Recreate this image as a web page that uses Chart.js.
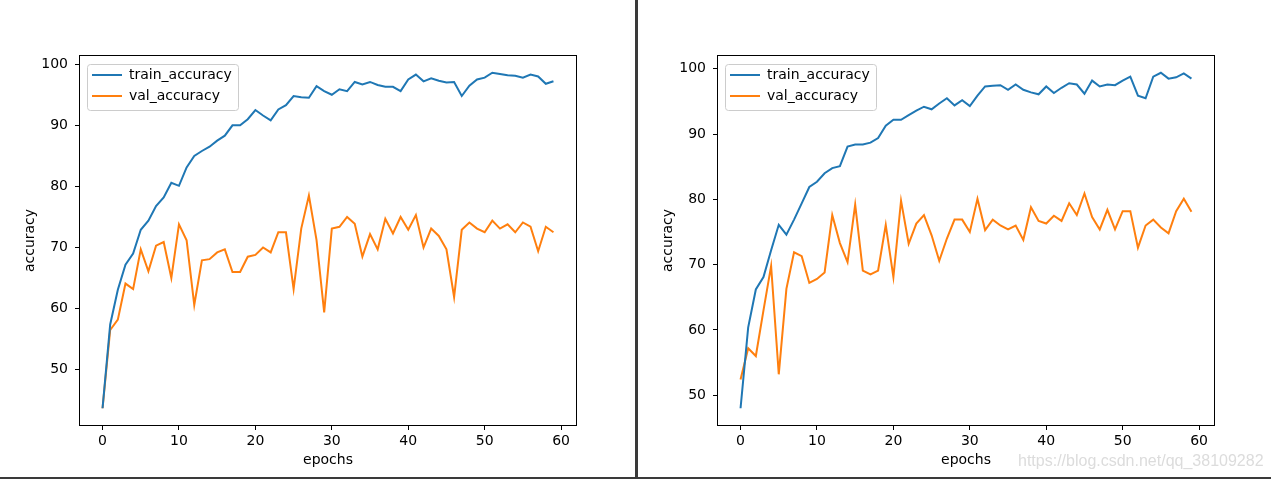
<!DOCTYPE html>
<html lang="en">

<head>
    <meta charset="UTF-8">
    <title>Accuracy curves</title>
    <style>
        body {
            margin: 0;
            background: #fff;
            width: 1271px;
            height: 479px;
            position: relative;
            overflow: hidden;
        }

        canvas {
            position: absolute;
            top: 0;
        }

        #left-chart {
            left: 0;
        }

        #right-chart {
            left: 638px;
        }

        #divider {
            position: absolute;
            left: 635px;
            top: 0;
            width: 3px;
            height: 479px;
            background: #3a3a3a;
        }

        #bottom-line {
            position: absolute;
            left: 0;
            top: 477px;
            width: 1271px;
            height: 2px;
            background: #3a3a3a;
        }

        #watermark {
            position: absolute;
            left: 1018px;
            top: 453px;
            font-family: "Liberation Sans", sans-serif;
            font-size: 16px;
            line-height: 16px;
            color: #dcdcdc;
            white-space: nowrap;
        }
    </style>
    <script src="https://cdn.jsdelivr.net/npm/chart.js"></script>
</head>

<body>
    <canvas id="left-chart" width="635" height="477"></canvas>
    <canvas id="right-chart" width="633" height="477"></canvas>
    <div id="divider"></div>
    <div id="bottom-line"></div>
    <div id="watermark">https://blog.csdn.net/qq_38109282</div>

    <script>
        const epochs = [0, 1, 2, 3, 4, 5, 6, 7, 8, 9, 10, 11, 12, 13, 14, 15, 16, 17, 18, 19,
            20, 21, 22, 23, 24, 25, 26, 27, 28, 29, 30, 31, 32, 33, 34, 35, 36, 37, 38, 39,
            40, 41, 42, 43, 44, 45, 46, 47, 48, 49, 50, 51, 52, 53, 54, 55, 56, 57, 58, 59];

        const xTicks = [0, 10, 20, 30, 40, 50, 60];
        const yTicks = [50, 60, 70, 80, 90, 100];
        const seriesNames = ['train_accuracy', 'val_accuracy'];

        // left figure
        const leftTrain = [43.7, 57.4, 63.1, 67.2, 69.0, 72.9, 74.4, 76.8, 78.2, 80.6,
            80.1, 83.1, 85.0, 85.8, 86.5, 87.5, 88.3, 90.0, 90.0, 91.0,
            92.5, 91.6, 90.8, 92.6, 93.3, 94.8, 94.6, 94.5, 96.4, 95.6,
            95.0, 95.9, 95.6, 97.1, 96.7, 97.1, 96.6, 96.3, 96.3, 95.6,
            97.5, 98.3, 97.2, 97.7, 97.3, 97.0, 97.1, 94.8, 96.5, 97.5,
            97.8, 98.6, 98.4, 98.2, 98.1, 97.8, 98.3, 98.0, 96.8, 97.2];
        const leftVal = [43.7, 56.5, 58.2, 64.1, 63.2, 69.7, 66.1, 70.3, 70.9, 65.0,
            73.8, 71.2, 60.6, 67.9, 68.1, 69.2, 69.7, 66.0, 66.0, 68.5,
            68.8, 70.0, 69.2, 72.5, 72.5, 63.2, 73.1, 78.5, 71.2, 59.4,
            73.1, 73.4, 75.0, 73.9, 68.5, 72.2, 69.7, 74.7, 72.3, 75.0,
            72.9, 75.3, 70.0, 73.1, 71.9, 69.7, 61.9, 72.9, 74.1, 73.1,
            72.5, 74.4, 73.1, 73.8, 72.5, 74.1, 73.4, 69.4, 73.4, 72.5];

        // right figure
        const rightTrain = [48.0, 60.4, 66.2, 68.1, 72.2, 76.1, 74.6, 76.9, 79.4, 81.9,
            82.7, 84.0, 84.8, 85.1, 88.1, 88.4, 88.4, 88.7, 89.4, 91.3,
            92.2, 92.2, 92.9, 93.6, 94.2, 93.8, 94.7, 95.5, 94.4, 95.2,
            94.3, 95.9, 97.3, 97.4, 97.5, 96.8, 97.6, 96.8, 96.4, 96.1,
            97.3, 96.3, 97.1, 97.8, 97.6, 96.2, 98.2, 97.3, 97.6, 97.5,
            98.2, 98.8, 95.9, 95.5, 98.8, 99.4, 98.5, 98.7, 99.3, 98.5];
        const rightVal = [52.4, 57.2, 56.0, 63.0, 69.8, 53.2, 66.3, 71.9, 71.3, 67.2,
            67.8, 68.8, 77.6, 73.3, 70.4, 79.2, 69.1, 68.5, 69.1, 76.1,
            68.1, 79.8, 73.2, 76.3, 77.6, 74.5, 70.6, 74.0, 76.9, 76.9,
            75.0, 80.1, 75.3, 76.9, 76.0, 75.4, 76.0, 73.8, 78.8, 76.7,
            76.3, 77.5, 76.7, 79.4, 77.6, 80.9, 77.3, 75.4, 78.4, 75.4,
            78.2, 78.2, 72.6, 76.0, 76.9, 75.7, 74.8, 78.2, 80.1, 78.1];

        const FONT = '"DejaVu Sans", sans-serif';
        const FS = 14;
        Chart.defaults.color = '#000';
        Chart.defaults.font.family = FONT;
        Chart.defaults.font.size = FS;

        // matplotlib style 5% margins
        function autoRange(lists) {
            const all = [].concat(...lists);
            const lo = Math.min(...all), hi = Math.max(...all);
            const m = (hi - lo) * 0.05;
            return { min: lo - m, max: hi + m };
        }

        // box around the axes + framed legend in the upper left corner
        const framePlugin = {
            id: 'frame',
            afterLayout(chart) {
                const lg = chart.legend;
                const area = chart.chartArea;
                lg.left = area.left + 5;
                lg.top = area.top + 5;
                lg.right = lg.left + 170;
                lg.bottom = lg.top + 60;
            },
            beforeDraw(chart) {
                const lg = chart.legend;
                const ctx = chart.ctx;
                const pad = lg.options.labels.padding;
                const boxW = lg.options.labels.pointStyleWidth;
                ctx.save();
                ctx.font = FS + 'px ' + FONT;
                const tw = Math.max(...seriesNames.map(t => ctx.measureText(t).width));
                const lineStart = lg.left + pad;
                const rowCenter = lg.top + pad + FS / 2;
                const x0 = lineStart - 5;
                const y0 = rowCenter - 10.7;
                const w = lineStart + boxW + FS / 2 + tw + 6 - x0;
                ctx.beginPath();
                ctx.roundRect(Math.round(x0) + 0.5, Math.round(y0) + 0.5, Math.round(w), 46, 3);
                ctx.fillStyle = 'rgba(255,255,255,0.8)';
                ctx.fill();
                ctx.strokeStyle = '#cccccc';
                ctx.lineWidth = 1;
                ctx.stroke();
                ctx.restore();
            },
            afterDatasetsDraw(chart) {
                const { left, top, right, bottom } = chart.chartArea;
                const ctx = chart.ctx;
                ctx.save();
                ctx.strokeStyle = '#000';
                ctx.lineWidth = 1;
                ctx.strokeRect(Math.round(left) - 0.5, Math.round(top) - 0.5,
                    Math.round(right - left) + 1, Math.round(bottom - top) + 1);
                ctx.restore();
            }
        };

        function makeChart(canvasId, train, val) {
            const canvas = document.getElementById(canvasId);
            const yr = autoRange([train, val]);
            return new Chart(canvas.getContext('2d'), {
                type: 'line',
                data: {
                    datasets: [{
                        label: seriesNames[0],
                        data: epochs.map((e, i) => ({ x: e, y: train[i] })),
                        borderColor: '#1f77b4',
                        backgroundColor: '#1f77b4',
                        borderWidth: 2,
                        pointRadius: 0,
                        tension: 0
                    }, {
                        label: seriesNames[1],
                        data: epochs.map((e, i) => ({ x: e, y: val[i] })),
                        borderColor: '#ff7f0e',
                        backgroundColor: '#ff7f0e',
                        borderWidth: 2,
                        pointRadius: 0,
                        tension: 0
                    }]
                },
                options: {
                    responsive: false,
                    animation: false,
                    layout: {
                        padding: { left: 0, top: 56, right: canvas.width - 576, bottom: 0 }
                    },
                    plugins: {
                        tooltip: { enabled: false },
                        legend: {
                            position: 'chartArea',
                            align: 'start',
                            labels: {
                                usePointStyle: true,
                                pointStyle: 'line',
                                pointStyleWidth: 30,
                                boxHeight: FS,
                                padding: 7,
                                color: '#000',
                                font: { size: FS, family: FONT }
                            }
                        }
                    },
                    scales: {
                        x: {
                            type: 'linear',
                            min: -2.95,
                            max: 61.95,
                            afterBuildTicks: s => { s.ticks = xTicks.map(v => ({ value: v })); },
                            afterFit: s => { s.height = 52; },
                            grid: { display: true, drawOnChartArea: false, drawTicks: true, tickLength: 5, tickColor: '#000', tickWidth: 1 },
                            border: { display: false },
                            ticks: { padding: 3, maxRotation: 0, color: '#000' },
                            title: { display: true, text: 'epochs', color: '#000', padding: { top: 0, bottom: 8.6 } }
                        },
                        y: {
                            min: yr.min,
                            max: yr.max,
                            afterBuildTicks: s => { s.ticks = yTicks.map(v => ({ value: v })); },
                            afterFit: s => { s.width = 80; },
                            grid: { display: true, drawOnChartArea: false, drawTicks: true, tickLength: 5, tickColor: '#000', tickWidth: 1 },
                            border: { display: false },
                            ticks: { padding: 7, color: '#000' },
                            title: { display: true, text: 'accuracy', color: '#000', padding: { top: 21.6, bottom: 0 } }
                        }
                    }
                },
                plugins: [framePlugin]
            });
        }

        makeChart('left-chart', leftTrain, leftVal);
        makeChart('right-chart', rightTrain, rightVal);
    </script>
</body>

</html>
